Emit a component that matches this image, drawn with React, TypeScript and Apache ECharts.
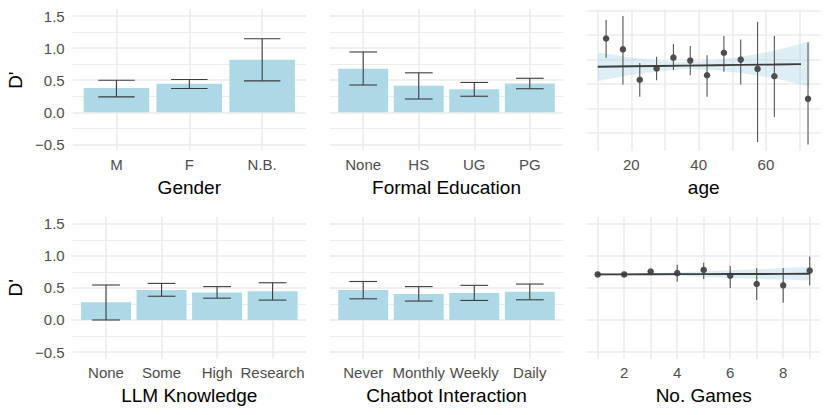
import React, { useEffect, useRef } from "react";
import * as echarts from "echarts";

// ---------- data ----------
const genderCats = ["M", "F", "N.B."];
const genderMean = [0.38, 0.445, 0.82];
const genderLow = [0.24, 0.37, 0.49];
const genderHigh = [0.5, 0.51, 1.145];

const eduCats = ["None", "HS", "UG", "PG"];
const eduMean = [0.68, 0.415, 0.36, 0.45];
const eduLow = [0.425, 0.207, 0.25, 0.367];
const eduHigh = [0.94, 0.615, 0.465, 0.53];

const llmCats = ["None", "Some", "High", "Research"];
const llmMean = [0.275, 0.467, 0.43, 0.447];
const llmLow = [0.0, 0.37, 0.34, 0.31];
const llmHigh = [0.545, 0.57, 0.52, 0.58];

const chatCats = ["Never", "Monthly", "Weekly", "Daily"];
const chatMean = [0.467, 0.405, 0.42, 0.44];
const chatLow = [0.33, 0.295, 0.305, 0.315];
const chatHigh = [0.6, 0.52, 0.54, 0.56];

const ageX = [12.5, 17.5, 22.5, 27.5, 32.5, 37.5, 42.5, 47.5, 52.5, 57.5, 62.5, 72.5];
const ageMean = [0.93, 0.71, 0.09, 0.32, 0.54, 0.48, 0.18, 0.64, 0.5, 0.31, 0.16, -0.3];
const ageLow = [0.54, -0.01, -0.26, 0.08, 0.29, 0.18, -0.26, 0.25, -0.01, -1.18, -0.67, -1.23];
const ageHigh = [1.31, 1.39, 0.43, 0.56, 0.82, 0.78, 0.59, 0.98, 0.91, 1.27, 0.98, 0.85];
const ageFitX = [10, 20, 27.5, 36, 45, 52.5, 62.5, 73];
const ageFit = [0.355, 0.364, 0.37, 0.378, 0.385, 0.392, 0.4, 0.41];
const ageFitLow = [0.065, 0.184, 0.26, 0.308, 0.285, 0.227, 0.12, -0.05];
const ageFitHigh = [0.645, 0.544, 0.48, 0.448, 0.485, 0.557, 0.68, 0.87];

const gamesX = [1, 2, 3, 4, 5, 6, 7, 8, 9];
const gamesMean = [0.71, 0.71, 0.755, 0.73, 0.78, 0.69, 0.56, 0.54, 0.77];
const gamesLow = [0.7, 0.7, 0.7, 0.6, 0.64, 0.5, 0.31, 0.27, 0.54];
const gamesHigh = [0.72, 0.72, 0.79, 0.86, 0.89, 0.84, 0.81, 0.81, 0.99];
const gamesFitX = [1, 2, 3, 4, 5, 6, 7, 8, 9];
const gamesFit = [0.71, 0.711, 0.712, 0.714, 0.715, 0.716, 0.717, 0.719, 0.72];
const gamesFitLow = [0.69, 0.696, 0.697, 0.684, 0.67, 0.656, 0.642, 0.629, 0.615];
const gamesFitHigh = [0.73, 0.726, 0.727, 0.744, 0.76, 0.776, 0.792, 0.809, 0.825];

// ---------- style / layout ----------
const FONT = "'Liberation Sans', Arial, Helvetica, sans-serif";
const LABEL = "#4D4D4D";
const GRIDC = "#EBEBEB";
const BAR = "#ADD8E6";
const BAND = "rgba(173,216,230,0.42)";
const DARK = "#3D3D3D";
const ERR = "#555555";

const PANEL_LEFT = [72.7, 329.9, 587.1];
const PANEL_TOP = [9.6, 217.3];
const PW = 233.2;
const PH = 141.2;

function fmtY(v: number) {
  return (v < 0 ? "\u2212" : "") + Math.abs(v).toFixed(1);
}

function buildOption() {
  const grid: any[] = [];
  const xAxis: any[] = [];
  const yAxis: any[] = [];
  const series: any[] = [];
  const graphic: any[] = [];

  function addPanel(
    row: number,
    col: number,
    yFull: number[],
    yGrid: number[],
    yMinor: boolean,
    xPanel: number[],
    xMin: number,
    xMax: number,
    xInt: number,
    fmt: (v: number) => string,
    title: string
  ) {
    const gi = grid.length;
    const left = PANEL_LEFT[col];
    const top = PANEL_TOP[row];
    const ppu = PH / (yFull[1] - yFull[0]);
    grid.push({
      left,
      top: top + (yFull[1] - yGrid[1]) * ppu,
      width: PW,
      height: (yGrid[1] - yGrid[0]) * ppu,
    });
    xAxis.push({ gridIndex: gi, type: "value", show: false, min: 0, max: 1 });
    yAxis.push({
      gridIndex: gi,
      type: "value",
      min: yGrid[0],
      max: yGrid[1],
      interval: 0.5,
      axisLine: { show: false },
      axisTick: { show: false },
      axisLabel: {
        show: col === 0,
        formatter: fmtY,
        color: LABEL,
        fontSize: 15,
        fontFamily: FONT,
        margin: 8,
      },
      splitLine: { show: true, lineStyle: { color: GRIDC, width: 1.5 } },
      minorTick: { show: false, splitNumber: 2 },
      minorSplitLine: { show: yMinor, lineStyle: { color: GRIDC, width: 0.9 } },
    });
    const ppx = PW / (xPanel[1] - xPanel[0]);
    grid.push({
      left: left + (xMin - xPanel[0]) * ppx,
      top,
      width: (xMax - xMin) * ppx,
      height: PH,
    });
    xAxis.push({
      gridIndex: gi + 1,
      type: "value",
      min: xMin,
      max: xMax,
      interval: xInt,
      axisLine: { show: false },
      axisTick: { show: false },
      axisLabel: {
        formatter: fmt,
        color: LABEL,
        fontSize: 15,
        fontFamily: FONT,
        margin: 6,
        showMinLabel: true,
        showMaxLabel: true,
      },
      splitLine: { show: true, lineStyle: { color: GRIDC, width: 1.5 } },
    });
    yAxis.push({ gridIndex: gi + 1, type: "value", min: yFull[0], max: yFull[1], show: false });
    graphic.push({
      type: "text",
      x: left + PW / 2,
      y: top + PH + 36.5,
      silent: true,
      style: {
        text: title,
        fill: "#000000",
        font: `19px ${FONT}`,
        textAlign: "center",
        textVerticalAlign: "middle",
      },
    });
    return gi + 1;
  }

  function barPanel(row: number, col: number, cats: string[], mean: number[], low: number[], high: number[], title: string) {
    const n = cats.length;
    const ax = addPanel(
      row, col, [-0.6, 1.6], [-0.5, 1.5], true, [0.4, n + 0.6], 1, n, 1,
      (v: number) => cats[Math.round(v) - 1] ?? "", title
    );
    const data = cats.map((_, i) => [i + 1, mean[i], low[i], high[i]]);
    series.push({
      type: "custom",
      xAxisIndex: ax,
      yAxisIndex: ax,
      silent: true,
      data,
      renderItem: (_p: any, api: any) => {
        const x = api.value(0);
        const m = api.value(1);
        const a = api.coord([x - 0.45, m]);
        const b = api.coord([x + 0.45, 0]);
        return {
          type: "rect",
          shape: { x: a[0], y: Math.min(a[1], b[1]), width: b[0] - a[0], height: Math.abs(b[1] - a[1]) },
          style: { fill: BAR },
        };
      },
    });
    series.push({
      type: "custom",
      xAxisIndex: ax,
      yAxisIndex: ax,
      silent: true,
      data,
      renderItem: (_p: any, api: any) => {
        const x = api.value(0);
        const lo = api.value(2);
        const hi = api.value(3);
        const t = api.coord([x, hi]);
        const bt = api.coord([x, lo]);
        const tl = api.coord([x - 0.25, hi]);
        const tr = api.coord([x + 0.25, hi]);
        const bl = api.coord([x - 0.25, lo]);
        const br = api.coord([x + 0.25, lo]);
        const st = { stroke: DARK, lineWidth: 1.1 };
        return {
          type: "group",
          children: [
            { type: "line", shape: { x1: t[0], y1: t[1], x2: bt[0], y2: bt[1] }, style: st },
            { type: "line", shape: { x1: tl[0], y1: tl[1], x2: tr[0], y2: tr[1] }, style: st },
            { type: "line", shape: { x1: bl[0], y1: bl[1], x2: br[0], y2: br[1] }, style: st },
          ],
        };
      },
    });
  }

  function pointPanel(
    row: number, col: number, yFull: number[], yGrid: number[], xPanel: number[],
    xMin: number, xMax: number, xInt: number, labStep: number,
    px: number[], mean: number[], low: number[], high: number[],
    fx: number[], fit: number[], flo: number[], fhi: number[], title: string
  ) {
    const ax = addPanel(
      row, col, yFull, yGrid, false, xPanel, xMin, xMax, xInt,
      (v: number) => (Math.round(v) % labStep === 0 ? String(Math.round(v)) : ""), title
    );
    series.push({
      type: "custom",
      xAxisIndex: ax,
      yAxisIndex: ax,
      silent: true,
      data: [[fx[0], fit[0]]],
      renderItem: (_p: any, api: any) => {
        const pts: number[][] = [];
        for (let i = 0; i < fx.length; i++) pts.push(api.coord([fx[i], fhi[i]]));
        for (let i = fx.length - 1; i >= 0; i--) pts.push(api.coord([fx[i], flo[i]]));
        return { type: "polygon", shape: { points: pts }, style: { fill: BAND } };
      },
    });
    const data = px.map((x, i) => [x, mean[i], low[i], high[i]]);
    series.push({
      type: "custom",
      xAxisIndex: ax,
      yAxisIndex: ax,
      silent: true,
      data,
      renderItem: (_p: any, api: any) => {
        const x = api.value(0);
        const a = api.coord([x, api.value(2)]);
        const b = api.coord([x, api.value(3)]);
        return {
          type: "line",
          shape: { x1: a[0], y1: a[1], x2: b[0], y2: b[1] },
          style: { stroke: ERR, lineWidth: 1.1 },
        };
      },
    });
    series.push({
      type: "line",
      xAxisIndex: ax,
      yAxisIndex: ax,
      silent: true,
      clip: false,
      symbol: "none",
      data: fx.map((x, i) => [x, fit[i]]),
      lineStyle: { color: DARK, width: 1.9 },
    });
    series.push({
      type: "scatter",
      xAxisIndex: ax,
      yAxisIndex: ax,
      silent: true,
      clip: false,
      symbolSize: 6.5,
      itemStyle: { color: "#4D4D4D", opacity: 1 },
      data: px.map((x, i) => [x, mean[i]]),
    });
  }

  barPanel(0, 0, genderCats, genderMean, genderLow, genderHigh, "Gender");
  barPanel(0, 1, eduCats, eduMean, eduLow, eduHigh, "Formal Education");
  pointPanel(
    0, 2, [-1.36, 1.52], [-1, 1.5], [6.85, 76.15], 10, 70, 10, 20,
    ageX, ageMean, ageLow, ageHigh, ageFitX, ageFit, ageFitLow, ageFitHigh, "age"
  );
  barPanel(1, 0, llmCats, llmMean, llmLow, llmHigh, "LLM Knowledge");
  barPanel(1, 1, chatCats, chatMean, chatLow, chatHigh, "Chatbot Interaction");
  pointPanel(
    1, 2, [-0.6, 1.6], [-0.5, 1.5], [0.6, 9.4], 1, 9, 1, 2,
    gamesX, gamesMean, gamesLow, gamesHigh, gamesFitX, gamesFit, gamesFitLow, gamesFitHigh, "No. Games"
  );

  for (let r = 0; r < 2; r++) {
    graphic.push({
      type: "text",
      x: 15,
      y: PANEL_TOP[r] + PH / 2,
      rotation: Math.PI / 2,
      silent: true,
      style: {
        text: "D'",
        fill: "#000000",
        font: `19px ${FONT}`,
        textAlign: "center",
        textVerticalAlign: "middle",
      },
    });
  }

  return {
    animation: false,
    backgroundColor: "#FFFFFF",
    textStyle: { fontFamily: FONT },
    grid,
    xAxis,
    yAxis,
    series,
    graphic,
  };
}

export default function App() {
  const ref = useRef<HTMLDivElement>(null);
  useEffect(() => {
    if (!ref.current) return;
    const chart = echarts.init(ref.current, null, { renderer: "svg" });
    chart.setOption(buildOption());
    return () => chart.dispose();
  }, []);
  return (
    <div
      ref={ref}
      style={{ position: "fixed", left: 0, top: 0, width: 830, height: 415, background: "#fff" }}
    />
  );
}
